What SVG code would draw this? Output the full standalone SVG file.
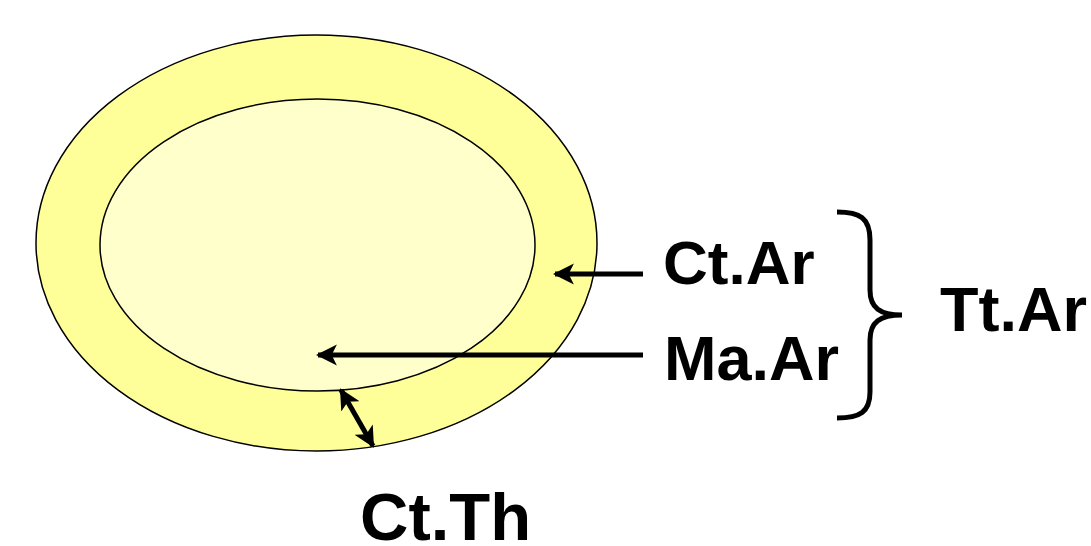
<svg xmlns="http://www.w3.org/2000/svg" width="1091" height="546" viewBox="0 0 1091 546">
<style>
.lbl{font-family:"Liberation Sans",Arial,sans-serif;font-weight:bold;font-size:62px;fill:#000}
.ln{stroke:#000;stroke-width:5;fill:none}
</style>
<defs>
<marker id="ah" viewBox="0 0 10 10" refX="9" refY="5" markerWidth="4.2" markerHeight="4.6" orient="auto-start-reverse" markerUnits="strokeWidth">
<path d="M0,0 L10,5 L0,10 L2.5,5 z" fill="#000"/>
</marker>
</defs>
<rect width="1091" height="546" fill="#fff"/>
<g id="outer"><ellipse cx="316.5" cy="243" rx="280.5" ry="208" fill="#FFFF99" stroke="#000" stroke-width="1.5"/></g>
<g id="inner"><ellipse cx="317.5" cy="245" rx="217.5" ry="146" fill="#FFFFCC" stroke="#000" stroke-width="1.5"/></g>
<g id="connectors">
<line class="ln" x1="643" y1="274" x2="555" y2="274" marker-end="url(#ah)"/>
<line class="ln" x1="643" y1="355" x2="318" y2="355" marker-end="url(#ah)"/>
<line class="ln" x1="341" y1="390" x2="373" y2="446" marker-start="url(#ah)" marker-end="url(#ah)"/>
<path class="ln" stroke-width="3" d="M837,212 C860,212 870,218 870,240 L870,290 C870,308 880,315 902,315 C880,315 870,322 870,340 L870,392 C870,412 860,418 837,418"/>
</g>
<g id="ctar"><text class="lbl" x="663" y="284">Ct.Ar</text></g>
<g id="maar"><text class="lbl" x="664" y="380" style="font-size:63px">Ma.Ar</text></g>
<g id="ttar"><text class="lbl" x="940" y="331" style="font-size:63px">Tt.Ar</text></g>
<g id="ctth"><text class="lbl" x="360" y="540" style="font-size:67px">Ct.Th</text></g>
</svg>
